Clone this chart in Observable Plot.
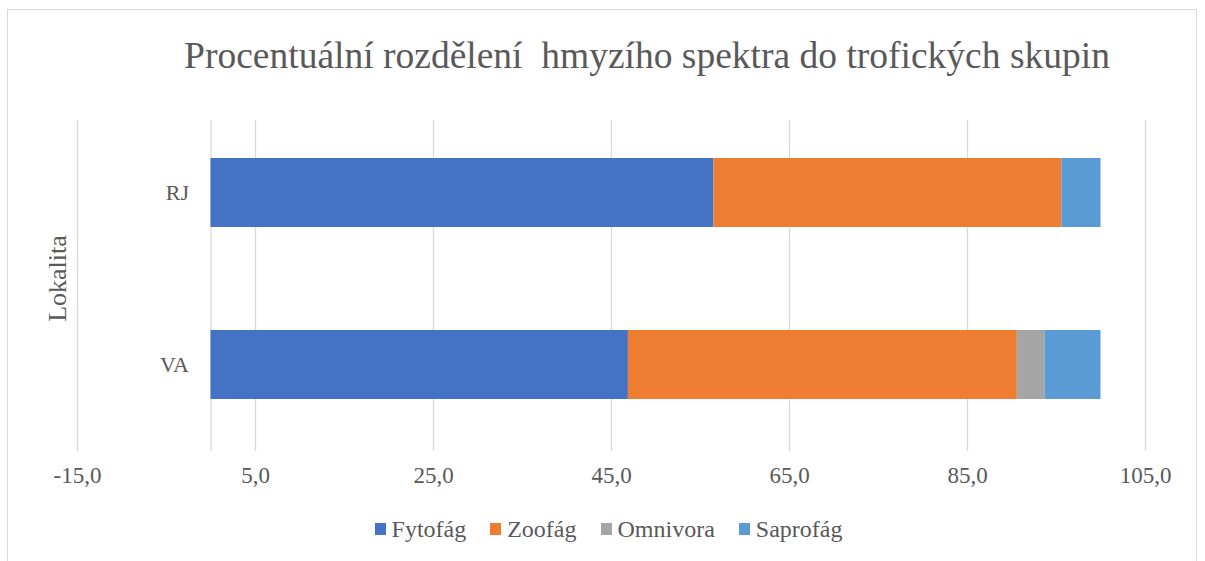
<!DOCTYPE html>
<html>
<head>
<meta charset="utf-8">
<script src="https://cdn.jsdelivr.net/npm/d3@7"></script>
<script src="https://cdn.jsdelivr.net/npm/@observablehq/plot@0.6"></script>
<style>
  body { margin: 0; background: #fff; font-family: "Liberation Serif", "Times New Roman", serif; }
  #wrap { position: relative; width: 1205px; height: 561px; overflow: hidden; }
  #frame { position: absolute; left: 7px; top: 9px; width: 1190px; height: 620px; border: 1px solid #d9d9d9; box-sizing: border-box; }
  #title { position: absolute; top: 34px; left: 0; width: 1294px; text-align: center; font-size: 37.5px; line-height: 44px; color: #595959; white-space: pre; }
  #chart { position: absolute; left: 0; top: 95px; }
  #legend { position: absolute; top: 514px; left: 0; width: 1217px; display: flex; justify-content: center; gap: 24px; font-size: 24px; line-height: 30px; color: #595959; }
  .item { display: flex; align-items: center; }
  .sw { display: inline-block; width: 11px; height: 12px; margin-right: 6px; }
</style>
</head>
<body>
<div id="wrap">
  <div id="frame"></div>
  <div id="title"></div>
  <div id="chart"></div>
  <div id="legend"></div>
</div>
<script>
const titleText = "Procentuální rozdělení  hmyzího spektra do trofických skupin";
const axisTitle = "Lokalita";
const localities = ["RJ", "VA"];
const groups = ["Fytofág", "Zoofág", "Omnivora", "Saprofág"];
const colors = ["#4472C4", "#ED7D31", "#A5A5A5", "#5B9BD5"];
const valuesRJ = [56.5, 39.1, 0, 4.4];
const valuesVA = [46.9, 43.7, 3.1, 6.3];
const xTicks = [-15, 5, 25, 45, 65, 85, 105];

const seriesByLocality = { RJ: valuesRJ, VA: valuesVA };
const data = [];
for (const loc of localities) {
  groups.forEach((g, i) => data.push({ loc, group: g, value: seriesByLocality[loc][i] }));
}

document.getElementById("title").textContent = titleText;

const fmt = d => d.toFixed(1).replace(".", ",");
const txt = "#595959";
const grid = "#d9d9d9";

const chart = Plot.plot({
  width: 1205,
  height: 400,
  marginLeft: 77,
  marginRight: 60,
  marginTop: 25,
  marginBottom: 44,
  style: { fontFamily: "'Liberation Serif', 'Times New Roman', serif", color: txt, background: "transparent", overflow: "visible" },
  x: { domain: [-15, 105], axis: null },
  y: { domain: localities, range: [62, 304], paddingInner: 0.6, paddingOuter: 0, axis: null },
  color: { domain: groups, range: colors },
  marks: [
    Plot.ruleX(xTicks, { stroke: grid, strokeWidth: 1.3 }),
    Plot.ruleX([0], { stroke: grid, strokeWidth: 1.3 }),
    Plot.barX(data, { x: "value", y: "loc", fill: "group", order: groups }),
    Plot.axisX({ ticks: xTicks, tickSize: 0, tickPadding: 15, tickFormat: fmt, fontSize: 23, fill: txt, label: null }),
    Plot.text(localities, { x: () => 0, y: d => d, text: d => d, textAnchor: "end", dx: -22, fontSize: 22, fill: txt }),
    Plot.text([axisTitle], { frameAnchor: "left", textAnchor: "middle", rotate: -90, dx: -20, dy: -7.5, fontSize: 26, fill: txt })
  ]
});
document.getElementById("chart").appendChild(chart);

const legend = document.getElementById("legend");
groups.forEach((g, i) => {
  const item = document.createElement("div");
  item.className = "item";
  const sw = document.createElement("span");
  sw.className = "sw";
  sw.style.background = colors[i];
  const lab = document.createElement("span");
  lab.textContent = g;
  item.appendChild(sw);
  item.appendChild(lab);
  legend.appendChild(item);
});
</script>
</body>
</html>
